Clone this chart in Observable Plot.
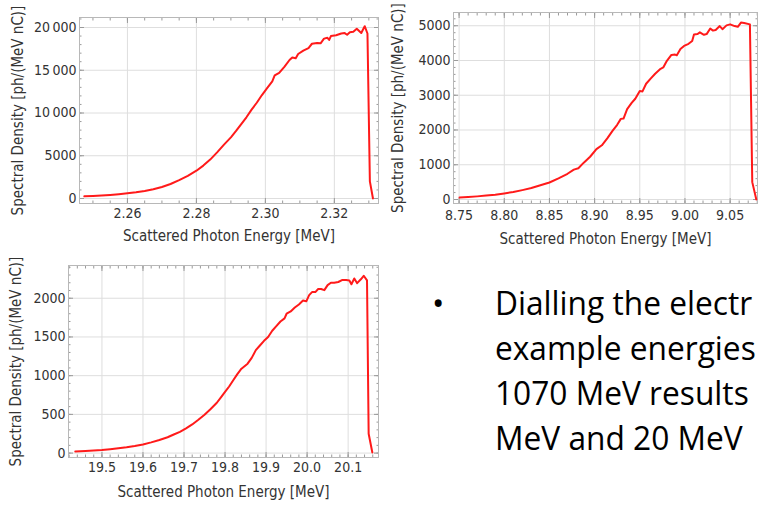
<!DOCTYPE html>
<html>
<head>
<meta charset="utf-8">
<script src="https://cdn.jsdelivr.net/npm/d3@7"></script>
<script src="https://cdn.jsdelivr.net/npm/@observablehq/plot@0.6"></script>
<style>
  html, body { margin: 0; padding: 0; background: #fff; overflow: hidden; }
  #page { position: relative; width: 758px; height: 507px; overflow: hidden; background: #fff; }
  .panel { position: absolute; }
  #bullet { position: absolute; left: 0; top: 0; width: 758px; height: 507px; pointer-events: none; overflow: hidden; }
  .bl { position: absolute; left: 495px; white-space: nowrap; font-family: "Open Sans", "Noto Sans", sans-serif; font-size: 33px; line-height: 45px; color: #000; transform: scaleX(0.96); transform-origin: 0 0; }
  .dot { position: absolute; left: 432px; font-family: "Open Sans", "Noto Sans", sans-serif; font-size: 33px; line-height: 45px; color: #000; }
</style>
</head>
<body>
<div id="page">
  <div class="panel" id="p1" style="left:0px;top:0px"></div>
  <div class="panel" id="p2" style="left:380px;top:0px"></div>
  <div class="panel" id="p3" style="left:0px;top:250px"></div>
  <div id="bullet"></div>
</div>
<script>
// ---------- data ----------
const energy1 = [2.2475,2.250,2.2525,2.255,2.2575,2.260,2.2625,2.265,2.2675,2.270,2.2725,2.275,2.2775,2.280,2.282,2.284,2.286,2.288,2.290,2.2915,2.293,2.2945,2.296,2.2975,2.299,2.3005,2.302,2.3027,2.304,2.3055,2.307,2.3078,2.3088,2.3095,2.311,2.3125,2.3135,2.315,2.316,2.317,2.318,2.3185,2.319,2.3205,2.322,2.323,2.3237,2.3245,2.3255,2.3265,2.3278,2.3288,2.3296,2.3303,2.3312];
const density1 = [250,300,350,420,500,600,720,880,1080,1350,1700,2150,2650,3250,3850,4550,5400,6300,7150,7900,8700,9500,10400,11200,12100,12900,13700,14400,14700,15400,16200,16500,16400,16900,17300,17600,18100,18200,18150,18700,18800,18550,19000,19100,19300,19350,19150,19450,19500,19850,19350,20150,19300,2000,0];

const energy2 = [8.7505,8.76,8.77,8.78,8.79,8.80,8.81,8.82,8.83,8.84,8.85,8.86,8.87,8.877,8.882,8.888,8.895,8.902,8.908,8.914,8.920,8.925,8.929,8.932,8.936,8.941,8.945,8.950,8.953,8.957,8.962,8.967,8.973,8.976,8.980,8.985,8.989,8.991,8.995,8.999,9.004,9.008,9.010,9.014,9.0165,9.021,9.024,9.028,9.031,9.034,9.0385,9.0415,9.046,9.050,9.055,9.0585,9.062,9.0655,9.0719,9.0745,9.079];
const density2 = [55,70,90,115,140,175,215,270,330,410,490,610,740,860,900,1060,1230,1450,1560,1760,1980,2150,2320,2330,2600,2780,2900,3120,3110,3330,3480,3620,3760,3800,3990,4160,4170,4150,4330,4420,4480,4560,4750,4760,4810,4740,4760,4920,4860,4880,4990,4900,5010,5040,4990,4970,5090,5080,5040,500,0];

const energy3 = [19.435,19.46,19.48,19.50,19.52,19.54,19.56,19.58,19.60,19.62,19.64,19.66,19.675,19.69,19.705,19.72,19.735,19.75,19.765,19.78,19.79,19.80,19.81,19.82,19.83,19.84,19.855,19.865,19.875,19.885,19.895,19.905,19.915,19.925,19.935,19.945,19.95,19.96,19.97,19.98,19.99,19.998,20.005,20.012,20.02,20.027,20.034,20.042,20.05,20.058,20.066,20.076,20.085,20.095,20.103,20.108,20.115,20.122,20.131,20.138,20.146,20.150,20.159];
const density3 = [21,28,34,40,50,62,75,92,112,138,170,205,240,275,320,370,430,495,570,650,720,790,860,940,1020,1090,1155,1230,1330,1390,1450,1500,1580,1640,1700,1740,1800,1830,1880,1920,1970,1960,2040,2080,2080,2120,2120,2105,2170,2200,2200,2210,2235,2235,2230,2180,2255,2195,2245,2290,2230,250,8];

// tick labels / tick positions
const xTicks1 = [2.26, 2.28, 2.30, 2.32];
const yTicks1 = [0, 5000, 10000, 15000, 20000];
const xTicks2 = [8.75, 8.80, 8.85, 8.90, 8.95, 9.00, 9.05];
const yTicks2 = [0, 1000, 2000, 3000, 4000, 5000];
const xTicks3 = [19.5, 19.6, 19.7, 19.8, 19.9, 20.0, 20.1];
const yTicks3 = [0, 500, 1000, 1500, 2000];

const xLabel = "Scattered Photon Energy [MeV]";
const yLabel = "Spectral Density [ph/(MeV nC)]";

const bulletLines = ["Dialling the electr", "example energies", "1070 MeV results", "MeV and 20 MeV"];

// ---------- helpers ----------
function minorTicks(domain, step) {
  const out = [];
  const start = Math.ceil(domain[0] / step - 1e-9);
  const end = Math.floor(domain[1] / step + 1e-9);
  for (let i = start; i <= end; i++) out.push(+(i * step).toFixed(6));
  return out;
}
const thin = (d) => d >= 10000 ? d3.format(",")(d).replace(/,/g, "\u2009") : String(d);

const FONT = "'DejaVu Sans Condensed', 'DejaVu Sans', sans-serif";

function chart(o) {
  const rows = o.E.map((e, i) => ({e, d: o.D[i]}));
  const xMinor = minorTicks(o.xDomain, o.xStep);
  const yMinor = minorTicks(o.yDomain, o.yStep);
  const tickStroke = "#9a9a9a";
  const marks = [
    Plot.gridX(o.xTicks, {stroke: "#dedede", strokeOpacity: 1}),
    Plot.gridY(o.yTicks, {stroke: "#dedede", strokeOpacity: 1}),
    Plot.axisX(o.xTicks, {anchor: "bottom", tickSize: 0, tickPadding: o.xPad, tickFormat: o.xFmt, label: null, fontSize: 14, fill: "#333"}),
    Plot.axisY(o.yTicks, {anchor: "left", tickSize: 0, tickPadding: 3, tickFormat: o.yFmt, fontSize: 14, fill: "#333", label: null}),
    Plot.axisY([], {anchor: "left", tickSize: 0, fontSize: 15, fill: "#333",
      label: yLabel, labelAnchor: "center", labelArrow: "none", labelOffset: o.yLabelOffset})
  ];
  for (const a of ["bottom", "top"]) {
    marks.push(Plot.axisX(xMinor, {anchor: a, tickSize: -2.5, fill: "none", label: null, stroke: tickStroke}));
    marks.push(Plot.axisX(o.xTicks, {anchor: a, tickSize: -5, fill: "none", label: null, stroke: tickStroke}));
  }
  for (const a of ["left", "right"]) {
    marks.push(Plot.axisY(yMinor, {anchor: a, tickSize: -2.5, fill: "none", label: null, stroke: tickStroke}));
    marks.push(Plot.axisY(o.yTicks, {anchor: a, tickSize: -5, fill: "none", label: null, stroke: tickStroke}));
  }
  marks.push(
    Plot.frame({stroke: "#b8b8b8"}),
    Plot.line(rows, {x: "e", y: "d", stroke: "#ff1a1a", strokeWidth: 2}),
    Plot.text([xLabel], {text: (d) => d, frameAnchor: "bottom", dy: o.xLabelDy, fontSize: 15, fill: "#333"})
  );
  return Plot.plot({
    width: o.width, height: o.height,
    marginLeft: o.ml, marginRight: o.mr, marginTop: o.mt, marginBottom: o.mb,
    x: {domain: o.xDomain},
    y: {domain: o.yDomain},
    style: {fontFamily: FONT, fontSize: "15px", color: "#333", background: "transparent", overflow: "visible"},
    marks
  });
}

document.getElementById("p1").append(chart({
  E: energy1, D: density1,
  xDomain: [2.2461, 2.3328], yDomain: [-585, 21170],
  xTicks: xTicks1, yTicks: yTicks1, xStep: 0.005, yStep: 1000,
  xFmt: d3.format(".2f"), yFmt: thin,
  width: 380, height: 250, ml: 79, mr: 2, mt: 17, mb: 47,
  xPad: 5, xLabelDy: 37, yLabelOffset: 67
}));

document.getElementById("p2").append(chart({
  E: energy2, D: density2,
  xDomain: [8.7438, 9.0803], yDomain: [-115, 5381],
  xTicks: xTicks2, yTicks: yTicks2, xStep: 0.01, yStep: 200,
  xFmt: d3.format(".2f"), yFmt: thin,
  width: 378, height: 250, ml: 73, mr: 1, mt: 12, mb: 47,
  xPad: 7, xLabelDy: 40, yLabelOffset: 61
}));

document.getElementById("p3").append(chart({
  E: energy3, D: density3,
  xDomain: [19.4185, 20.174], yDomain: [-57, 2423],
  xTicks: xTicks3, yTicks: yTicks3, xStep: 0.02, yStep: 100,
  xFmt: d3.format(".1f"), yFmt: thin,
  width: 380, height: 257, ml: 68, mr: 2, mt: 15, mb: 50,
  xPad: 5, xLabelDy: 39, yLabelOffset: 58
}));

// bullet text
const bl = document.getElementById("bullet");
const dot = document.createElement("div");
dot.className = "dot"; dot.textContent = "\u2022"; dot.style.top = "280px";
bl.append(dot);
bulletLines.forEach((t, i) => {
  const d = document.createElement("div");
  d.className = "bl"; d.textContent = t; d.style.top = (280 + i * 45) + "px";
  bl.append(d);
});
</script>
</body>
</html>
